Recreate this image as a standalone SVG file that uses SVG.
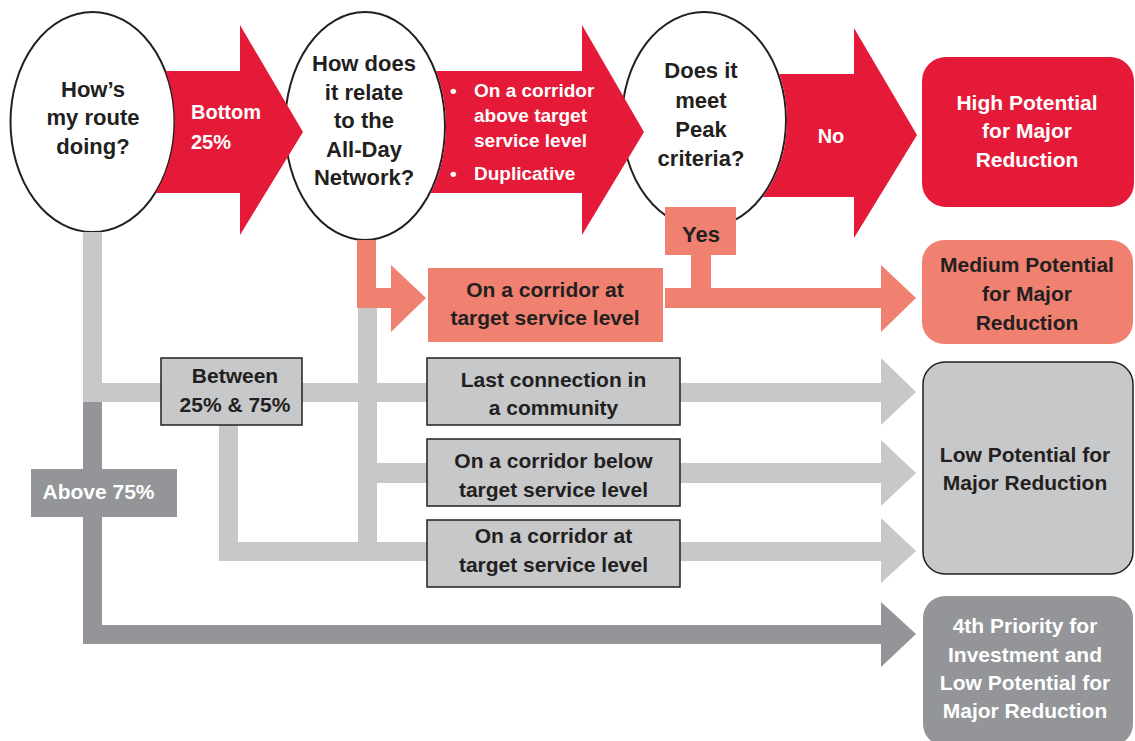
<svg xmlns="http://www.w3.org/2000/svg" width="1135" height="741" viewBox="0 0 1135 741">
<style>
text{font-family:"Liberation Sans",Arial,sans-serif;font-weight:bold;font-size:21px}
.dk{fill:#231f20}
.wt{fill:#ffffff}
.c{text-anchor:middle}
.q{font-size:22px}
.ell{fill:#ffffff;stroke:#231f20;stroke-width:2}
.red{fill:#e41a38}
.sal{fill:#f08171}
.lg{fill:#c7c8ca}
.dg{fill:#939598}
.gbox{fill:#c7c8ca;stroke:#231f20;stroke-width:1.5}
</style>
<rect width="1135" height="741" fill="#ffffff"/>
<g id="q1">
<ellipse class="ell" cx="92.5" cy="122" rx="82" ry="110"/>
<text class="dk c q" x="93" y="97">How’s</text>
<text class="dk c q" x="93" y="125">my route</text>
<text class="dk c q" x="93" y="154">doing?</text>
</g>
<g id="q2">
<ellipse class="ell" cx="365" cy="126" rx="80" ry="114"/>
<text class="dk c q" x="364" y="71">How does</text>
<text class="dk c q" x="364" y="100">it relate</text>
<text class="dk c q" x="364" y="128">to the</text>
<text class="dk c q" x="364" y="157">All-Day</text>
<text class="dk c q" x="364" y="185">Network?</text>
</g>
<g id="q3">
<ellipse class="ell" cx="704" cy="120" rx="82" ry="108"/>
<text class="dk c q" x="701" y="78">Does it</text>
<text class="dk c q" x="701" y="108">meet</text>
<text class="dk c q" x="701" y="137">Peak</text>
<text class="dk c q" x="701" y="166">criteria?</text>
</g>
<g id="connectors">
<path class="red" d="M165.6,71 L240,71 L240,25 L303,132 L240,235 L240,193 L155.5,193 A83,111 0 0,0 165.6,71 Z"/>
<text class="wt" x="191" y="119" font-size="20" style="font-size:20px">Bottom</text>
<text class="wt" x="191" y="149" style="font-size:20px">25%</text>
<path class="red" d="M436.1,71 L582,71 L582,25 L644,132 L582,235 L582,193 L430.8,193 A81,115 0 0,0 436.1,71 Z"/>
<g class="wt" style="font-size:19px">
<text class="wt" x="450" y="97" style="font-size:19px">•</text>
<text class="wt" x="474" y="97" style="font-size:19px">On a corridor</text>
<text class="wt" x="474" y="122" style="font-size:19px">above target</text>
<text class="wt" x="474" y="147" style="font-size:19px">service level</text>
<text class="wt" x="450" y="180" style="font-size:19px">•</text>
<text class="wt" x="474" y="180" style="font-size:19px">Duplicative</text>
</g>
<path class="red" d="M779.2,74 L854,74 L854,28 L917,135 L854,238 L854,197 L762.7,197 A83,109 0 0,0 779.2,74 Z"/>
<text class="wt c" x="831" y="143" style="font-size:20px">No</text>
<path class="sal" d="M357,240 L376,240 L376,288 L391,288 L391,265 L426,298 L391,332 L391,308 L357,308 Z"/>
<path class="sal" d="M691,254 L711,254 L711,288 L881,288 L881,265 L916,298 L881,332 L881,308 L665,308 L665,288 L691,288 Z"/>
<path class="lg" d="M83,232 L102,232 L102,383 L881,383 L881,358 L916,392 L881,425 L881,402 L83,402 Z"/>
<path class="lg" d="M358,308 L377,308 L377,463 L881,463 L881,440 L916,473 L881,506 L881,483 L377,483 L377,542 L358,542 Z"/>
<path class="lg" d="M219,425 L238,425 L238,542 L881,542 L881,518 L916,551 L881,583 L881,561 L219,561 Z"/>
<path class="dg" d="M83,402 L102,402 L102,625 L881,625 L881,602 L916,634 L881,667 L881,644 L83,644 Z"/>
</g>
<g id="yes">
<rect class="sal" x="665" y="207" width="71" height="48"/>
<text class="dk c q" x="701" y="242">Yes</text>
</g>
<g id="between">
<rect class="gbox" x="161" y="358" width="141" height="67"/>
<text class="dk c" x="235" y="383">Between</text>
<text class="dk c" x="235" y="412">25% &amp; 75%</text>
</g>
<g id="above">
<rect class="dg" x="31" y="469" width="146" height="48"/>
<text class="wt c" x="98.5" y="499">Above 75%</text>
</g>
<g id="corridor-at-salmon">
<rect class="sal" x="428" y="268" width="235" height="74"/>
<text class="dk c" x="545" y="297">On a corridor at</text>
<text class="dk c" x="545" y="325">target service level</text>
</g>
<g id="last-connection">
<rect class="gbox" x="427" y="358" width="253" height="67"/>
<text class="dk c" x="553.5" y="387">Last connection in</text>
<text class="dk c" x="553.5" y="415">a community</text>
</g>
<g id="corridor-below">
<rect class="gbox" x="427" y="439" width="253" height="67"/>
<text class="dk c" x="553.5" y="468">On a corridor below</text>
<text class="dk c" x="553.5" y="497">target service level</text>
</g>
<g id="corridor-at-grey">
<rect class="gbox" x="427" y="520" width="253" height="67"/>
<text class="dk c" x="553.5" y="543">On a corridor at</text>
<text class="dk c" x="553.5" y="572">target service level</text>
</g>
<g id="high">
<rect class="red" x="922" y="57" width="212" height="150" rx="24" ry="24"/>
<text class="wt c" x="1027" y="110">High Potential</text>
<text class="wt c" x="1027" y="138">for Major</text>
<text class="wt c" x="1027" y="167">Reduction</text>
</g>
<g id="medium">
<rect class="sal" x="922" y="240" width="211" height="104" rx="22" ry="22"/>
<text class="dk c" x="1027" y="272">Medium Potential</text>
<text class="dk c" x="1027" y="301">for Major</text>
<text class="dk c" x="1027" y="330">Reduction</text>
</g>
<g id="low">
<rect class="gbox" x="923" y="362" width="210" height="212" rx="22" ry="22"/>
<text class="dk c" x="1025" y="462">Low Potential for</text>
<text class="dk c" x="1025" y="490">Major Reduction</text>
</g>
<g id="fourth">
<rect class="dg" x="923" y="596" width="210" height="150" rx="22" ry="22"/>
<text class="wt c" x="1025" y="633">4th Priority for</text>
<text class="wt c" x="1025" y="662">Investment and</text>
<text class="wt c" x="1025" y="690">Low Potential for</text>
<text class="wt c" x="1025" y="718">Major Reduction</text>
</g>
</svg>
